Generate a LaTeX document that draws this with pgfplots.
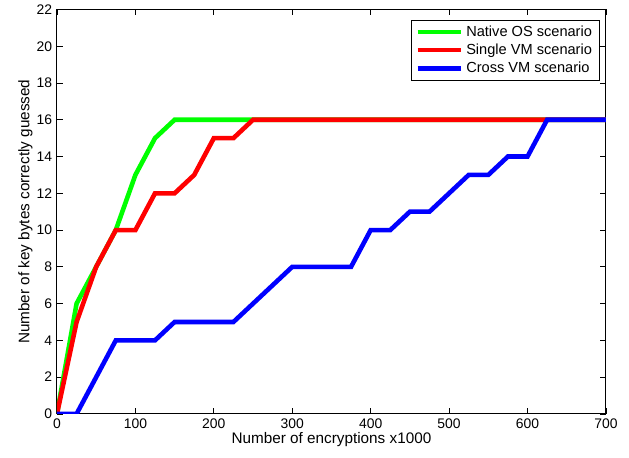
\documentclass[border=0pt]{standalone}
\usepackage{pgfplots}
\pgfplotsset{compat=1.18}
\usepackage{fontspec}
\setmainfont{Liberation Sans}
\begin{document}
\begin{tikzpicture}
\begin{axis}[
  name=a,
  width=395pt, height=291pt, scale only axis,
  xmin=0, xmax=700, ymin=0, ymax=22,
  xtick={0,100,...,700}, ytick={0,2,...,22},
  tick align=inside, tick pos=both,
  major tick length=4pt,
  tick style={black, line width=0.5pt},
  axis line style={black, line width=0.7pt},
  /pgf/number format/assume math mode=true,
  ticklabel style={font=\fontsize{10}{12}\selectfont},
  label style={font=\fontsize{11}{13}\selectfont},
  xlabel={Number of encryptions x1000},
  ylabel={Number of key bytes correctly guessed},
  xlabel style={yshift=4pt},
  ylabel style={yshift=-4pt},
  legend style={at={(0.988,0.975)}, anchor=north east, draw=black, line width=0.6pt,
    font=\fontsize{10.5}{13}\selectfont, inner xsep=3pt, inner ysep=2pt, row sep=0pt},
  legend cell align=left,
  legend image code/.code={\draw[#1, line width=3.3pt] (0cm,0cm) -- (1.1cm,0cm);},
  every axis plot/.append style={line width=3.3pt, line join=miter},
]
\addplot[color={rgb,1:red,0;green,1;blue,0}] coordinates {
(0,0) (25,6) (50,8) (75,10) (100,13) (125,15) (150,16) (175,16) (200,16) (225,16) (250,16)
(300,16) (400,16) (500,16) (600,16) (700,16)};
\addlegendentry{Native OS scenario}
\addplot[color={rgb,1:red,1;green,0;blue,0}] coordinates {
(0,0) (25,5) (50,8) (75,10) (100,10) (125,12) (150,12) (175,13) (200,15) (225,15) (250,16)
(300,16) (400,16) (500,16) (600,16) (700,16)};
\addlegendentry{Single VM scenario}
\addplot[color={rgb,1:red,0;green,0;blue,1}] coordinates {
(0,0) (25,0) (50,2) (75,4) (100,4) (125,4) (150,5) (175,5) (200,5) (225,5) (250,6) (275,7)
(300,8) (325,8) (350,8) (375,8) (400,10) (425,10) (450,11) (475,11) (500,12) (525,13)
(550,13) (575,14) (600,14) (625,16) (650,16) (675,16) (700,16)};
\addlegendentry{Cross VM scenario}
\end{axis}
\path (a.south west) ++(-41pt,-31.7pt);
\path (a.north east) ++(16.6pt,4.3pt);
\end{tikzpicture}
\end{document}
